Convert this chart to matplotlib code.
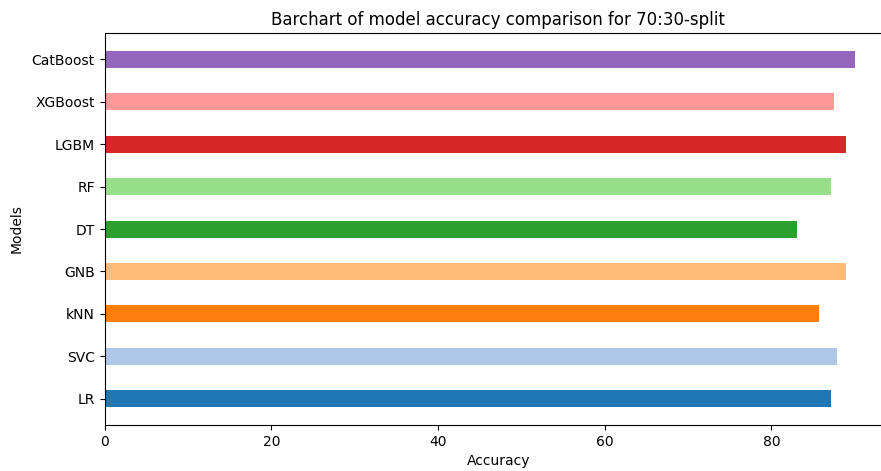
import matplotlib
matplotlib.use('Agg')
import matplotlib.pyplot as plt

# model accuracies (%) for the 70:30 train/test split
models = ['LR', 'SVC', 'kNN', 'GNB', 'DT', 'RF', 'LGBM', 'XGBoost', 'CatBoost']
accuracy = [87.2, 87.9, 85.7, 89.0, 83.1, 87.2, 89.0, 87.5, 90.0]
colors = plt.cm.tab20.colors[:len(models)]

fig = plt.figure(figsize=(8.81, 4.71), dpi=100)
# axes runs slightly past the right edge of the figure
ax = fig.add_axes([0.1187, 0.0977, 0.894, 0.832])
ax.barh(models, accuracy, height=0.4, color=colors)
ax.set_xlim(0, max(accuracy) * 1.05)
ax.set_xlabel('Accuracy')
ax.set_ylabel('Models', labelpad=6)
ax.set_title('Barchart of model accuracy comparison for 70:30-split')

fig.savefig('out.png', dpi=100)
plt.close()
